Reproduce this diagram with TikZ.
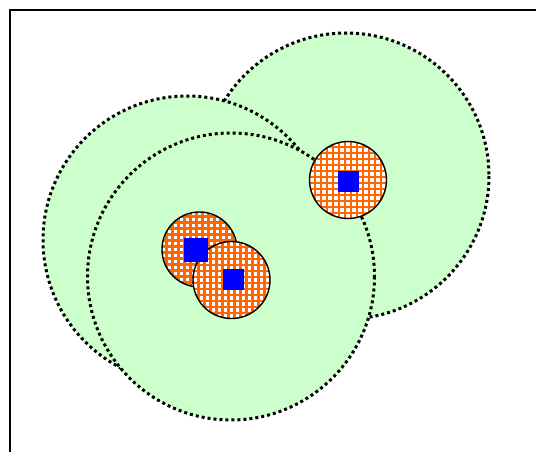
\documentclass[tikz,border=0pt]{standalone}
\begin{document}
\begin{tikzpicture}[x=1pt,y=-1pt,
  zone/.style={draw=black, line width=3pt, dash pattern=on 3pt off 3pt},
  dev/.style={draw=black, line width=1.4pt},
  chip/.style={fill=blue, draw=none, minimum size=#1, inner sep=0pt, shape=rectangle}]
\useasboundingbox (0,0) rectangle (536,452);
\definecolor{orng}{HTML}{FF6600}
\definecolor{zonegreen}{HTML}{CCFFCC}
% frame
\draw[line width=1.5pt] (10,452) -- (10,10) -- (536,10);
% coverage zones
\fill[zonegreen] (346,176) circle (143);
\draw[zone] (346,176) circle (143);
\fill[zonegreen] (187,240) circle (144);
\draw[zone] (187,240) circle (144);
\fill[zonegreen] (231,276.5) circle (143.5);
\draw[zone] (231,276.5) circle (143.5);
% devices
\foreach \cx/\cy/\r in {199.5/249.5/37.5, 231.5/280/38.5, 348/180/38.5}{
  \begin{scope}
    \clip (\cx,\cy) circle (\r);
    \fill[orng] (\cx-\r,\cy-\r) rectangle (\cx+\r,\cy+\r);
    \foreach \i in {-7,...,7}{
      \foreach \j in {-7,...,7}{
        \fill[white] ({\cx+\i*6-1.8},{\cy+\j*6-1.8}) rectangle ++(3.6,3.6);
      }
    }
  \end{scope}
  \draw[dev] (\cx,\cy) circle (\r);
}
% chips
\node[chip=24pt] (c1) at (196,250) {};
\node[chip=21pt] (c2) at (233.5,279.5) {};
\node[chip=21pt] (c3) at (348.5,181.5) {};
\end{tikzpicture}
\end{document}
